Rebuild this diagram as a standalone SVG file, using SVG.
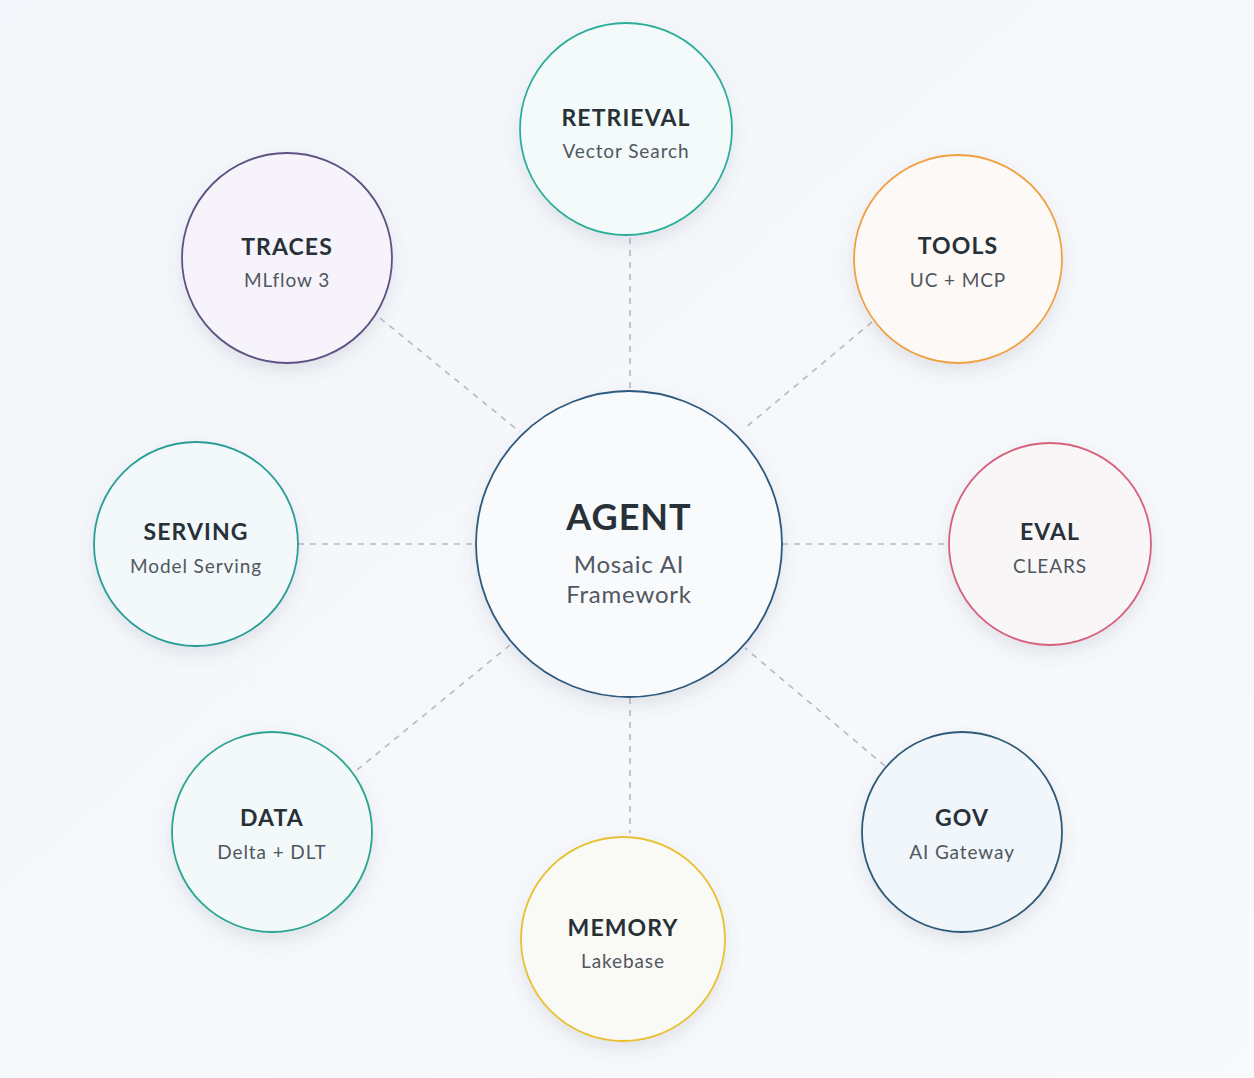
<svg xmlns="http://www.w3.org/2000/svg" width="1254" height="1078" viewBox="0 0 1254 1078">
<defs>
  <linearGradient id="bg" x1="0" y1="0" x2="1" y2="1">
    <stop offset="0" stop-color="#f3f6fa"/>
    <stop offset="1" stop-color="#f8f9fb"/>
  </linearGradient>
  <filter id="sh" x="-30%" y="-30%" width="160%" height="170%">
    <feDropShadow dx="0" dy="8" stdDeviation="8" flood-color="#5a6a80" flood-opacity="0.14"/>
  </filter>
  <style>
    .node { stroke-width: 1.8; filter: url(#sh); }
    .t { font-family: Lato, "Open Sans", "Liberation Sans", sans-serif; font-weight: 700; font-size: 23px; fill: #283038; text-anchor: middle; letter-spacing: 1.1px; }
    .s { font-family: Lato, "Open Sans", "Liberation Sans", sans-serif; font-weight: 400; font-size: 19px; fill: #50575f; text-anchor: middle; letter-spacing: 0.9px; }
    .conn line { stroke: #b4bac2; stroke-width: 1.6; stroke-dasharray: 6 6; }
  </style>
</defs>
<rect width="1254" height="1078" fill="url(#bg)"/>
<g id="connectors" class="conn">
  <line x1="630" y1="238" x2="630" y2="390"/>
  <line x1="630" y1="698" x2="630" y2="833"/>
  <line x1="298" y1="544" x2="476" y2="544"/>
  <line x1="782" y1="544" x2="950" y2="544"/>
  <line x1="380" y1="318" x2="520" y2="432"/>
  <line x1="872" y1="322" x2="745" y2="428"/>
  <line x1="357" y1="770" x2="510" y2="645"/>
  <line x1="885" y1="766" x2="745" y2="648"/>
</g>
<g id="agent">
  <circle class="node" cx="629" cy="544" r="153" fill="#f8fafc" stroke="#2e5a7e"/>
  <text class="t" x="629" y="530" style="font-size:36px;letter-spacing:1px">AGENT</text>
  <text class="s" x="629" y="573" style="font-size:24px;letter-spacing:0.8px">Mosaic AI</text>
  <text class="s" x="629" y="603" style="font-size:24px;letter-spacing:0.8px">Framework</text>
</g>
<g id="retrieval">
  <circle class="node" cx="626" cy="129" r="106" fill="#f4f9fa" stroke="#2bae9a"/>
  <text class="t" x="626" y="126">RETRIEVAL</text>
  <text class="s" x="626" y="158">Vector Search</text>
</g>
<g id="traces">
  <circle class="node" cx="287" cy="258" r="105" fill="#f6f4fa" stroke="#5e5284"/>
  <text class="t" x="287" y="255">TRACES</text>
  <text class="s" x="287" y="287">MLflow 3</text>
</g>
<g id="tools">
  <circle class="node" cx="958" cy="259" r="104" fill="#fcf9f6" stroke="#f0a040"/>
  <text class="t" x="958" y="254">TOOLS</text>
  <text class="s" x="958" y="287">UC + MCP</text>
</g>
<g id="serving">
  <circle class="node" cx="196" cy="544" r="102" fill="#f3f9fa" stroke="#2a9e96"/>
  <text class="t" x="196" y="540">SERVING</text>
  <text class="s" x="196" y="573">Model Serving</text>
</g>
<g id="eval">
  <circle class="node" cx="1050" cy="544" r="101" fill="#f9f6f8" stroke="#d9607a"/>
  <text class="t" x="1050" y="540">EVAL</text>
  <text class="s" x="1050" y="573">CLEARS</text>
</g>
<g id="data">
  <circle class="node" cx="272" cy="832" r="100" fill="#f3f9f9" stroke="#2aa592"/>
  <text class="t" x="272" y="826">DATA</text>
  <text class="s" x="272" y="859">Delta + DLT</text>
</g>
<g id="gov">
  <circle class="node" cx="962" cy="832" r="100" fill="#f1f6fa" stroke="#2e5a78"/>
  <text class="t" x="962" y="826">GOV</text>
  <text class="s" x="962" y="859">AI Gateway</text>
</g>
<g id="memory">
  <circle class="node" cx="623" cy="939" r="102" fill="#f9f9f6" stroke="#e8c030"/>
  <text class="t" x="623" y="936">MEMORY</text>
  <text class="s" x="623" y="968">Lakebase</text>
</g>
</svg>
